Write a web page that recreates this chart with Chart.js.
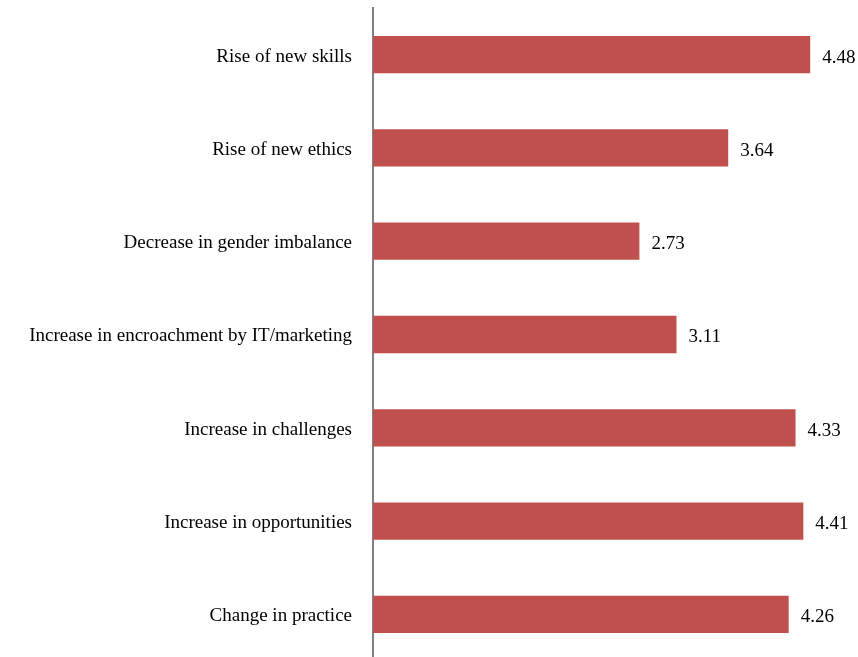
<!DOCTYPE html>
<html>
<head>
<meta charset="utf-8">
<script src="https://cdn.jsdelivr.net/npm/chart.js@4/dist/chart.umd.min.js"></script>
<style>
  html, body { margin: 0; padding: 0; background: #ffffff; overflow: hidden; }
  canvas { display: block; }
</style>
</head>
<body>
<canvas id="chartChange" width="858" height="662"></canvas>
<script>
// Categories, top to bottom
const categories = [
    'Rise of new skills',
    'Rise of new ethics',
    'Decrease in gender imbalance',
    'Increase in encroachment by IT/marketing',
    'Increase in challenges',
    'Increase in opportunities',
    'Change in practice'
];

// Mean scores
const meanScores = [4.48, 3.64, 2.73, 3.11, 4.33, 4.41, 4.26];

const barColor = '#C0504D';
const fontFamily = '"Liberation Serif", "Times New Roman", serif';

// Draw value labels to the right of each bar
const valueLabels = {
    id: 'valueLabels',
    afterDatasetsDraw(chart) {
        const ctx = chart.ctx;
        const meta = chart.getDatasetMeta(0);
        ctx.save();
        ctx.font = '19px ' + fontFamily;
        ctx.fillStyle = '#000000';
        ctx.textAlign = 'left';
        ctx.textBaseline = 'middle';
        meta.data.forEach((bar, i) => {
            ctx.fillText(meanScores[i].toFixed(2), bar.x + 12, bar.y + 3);
        });
        ctx.restore();
    }
};

const ctx = document.getElementById('chartChange').getContext('2d');

new Chart(ctx, {
    type: 'bar',
    data: {
        labels: categories,
        datasets: [{
            label: 'Mean',
            data: meanScores,
            backgroundColor: barColor,
            borderWidth: 0,
            categoryPercentage: 1.0,
            barPercentage: 0.4
        }]
    },
    options: {
        indexAxis: 'y',
        responsive: false,
        animation: false,
        layout: { padding: { top: 8, bottom: 1, left: 0, right: 0 } },
        plugins: {
            legend: { display: false },
            tooltip: { enabled: false }
        },
        scales: {
            x: {
                display: false,
                min: 0,
                max: 4.97
            },
            y: {
                grid: { display: false, drawTicks: false },
                border: { display: true, color: '#808080', width: 2 },
                ticks: {
                    color: '#000000',
                    padding: 21,
                    labelOffset: 2,
                    font: { family: fontFamily, size: 19 }
                },
                afterFit(scale) {
                    scale.width = 373;
                    scale.paddingTop = 0;
                    scale.paddingBottom = 0;
                }
            }
        }
    },
    plugins: [valueLabels]
});
</script>
</body>
</html>
